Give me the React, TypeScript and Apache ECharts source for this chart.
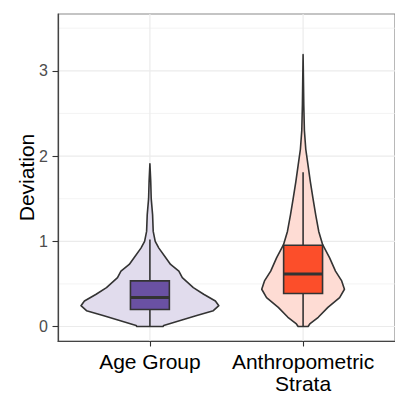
import React, { useEffect, useRef } from "react";
import * as echarts from "echarts";

const categories = ["Age Group", "Anthropometric\nStrata"];
const categoryPositions = [1, 2];
const yTickValues = [0, 1, 2, 3];
const yMinorValues = [0.5, 1.5, 2.5, 3.5];

// violin outlines: values and relative half-widths (1 = widest violin)
const ageViolinY = [0, 0.012, 0.07, 0.128, 0.186, 0.244, 0.3, 0.379, 0.457, 0.573, 0.65, 0.728, 0.806, 0.92, 1.0, 1.116, 1.31, 1.5, 1.7, 1.91];
const ageViolinW = [0.19, 0.2, 0.44, 0.68, 0.92, 1.0, 0.95, 0.78, 0.63, 0.47, 0.42, 0.3, 0.23, 0.13, 0.077, 0.048, 0.039, 0.019, 0.012, 0];
const anthroViolinY = [0, 0.03, 0.108, 0.224, 0.34, 0.437, 0.535, 0.65, 0.806, 0.96, 1.116, 1.31, 1.5, 1.7, 1.89, 2.08, 2.3, 2.6, 2.9, 3.19];
const anthroViolinW = [0.072, 0.097, 0.22, 0.36, 0.53, 0.6, 0.56, 0.47, 0.385, 0.284, 0.227, 0.183, 0.144, 0.105, 0.072, 0.039, 0.019, 0.01, 0.005, 0];

const boxLower = [0, 0];
const boxQ1 = [0.2, 0.387];
const boxMedian = [0.34, 0.616];
const boxQ3 = [0.535, 0.953];
const boxUpper = [1.02, 1.81];

const violinFills = ["#E1DCED", "#FEDCD4"];
const boxFills = ["#6A51A3", "#FC4E2A"];

const violinYs = [ageViolinY, anthroViolinY];
const violinWs = [ageViolinW, anthroViolinW];

const FONT = "'Liberation Sans', Arial, sans-serif";
const VIOLIN_HALF = 0.45;
const BOX_HALF = 0.127;
const OUTLINE = "#333333";
const LW = 1.6;

export default function App() {
  const ref = useRef<HTMLDivElement>(null);
  useEffect(() => {
    if (!ref.current) return;
    const chart = echarts.init(ref.current, null, { renderer: "svg" });

    const renderViolin = (params: any, api: any) => {
      const cx = api.value(0);
      const i = api.value(1);
      const ys = violinYs[i];
      const ws = violinWs[i];
      const pts: number[][] = [];
      for (let k = 0; k < ys.length; k++) pts.push(api.coord([cx + VIOLIN_HALF * ws[k], ys[k]]));
      for (let k = ys.length - 1; k >= 0; k--) pts.push(api.coord([cx - VIOLIN_HALF * ws[k], ys[k]]));
      const tl = api.coord([cx - BOX_HALF, boxQ3[i]]);
      const br = api.coord([cx + BOX_HALF, boxQ1[i]]);
      const mL = api.coord([cx - BOX_HALF, boxMedian[i]]);
      const mR = api.coord([cx + BOX_HALF, boxMedian[i]]);
      const wTop = api.coord([cx, boxUpper[i]]);
      const wQ3 = api.coord([cx, boxQ3[i]]);
      const wQ1 = api.coord([cx, boxQ1[i]]);
      const wBot = api.coord([cx, boxLower[i]]);
      return {
        type: "group",
        children: [
          {
            type: "polygon",
            shape: { points: pts },
            style: { fill: violinFills[i], stroke: OUTLINE, lineWidth: LW, lineJoin: "round" },
          },
          {
            type: "line",
            shape: { x1: wTop[0], y1: wTop[1], x2: wQ3[0], y2: wQ3[1] },
            style: { stroke: OUTLINE, lineWidth: LW },
          },
          {
            type: "line",
            shape: { x1: wQ1[0], y1: wQ1[1], x2: wBot[0], y2: wBot[1] },
            style: { stroke: OUTLINE, lineWidth: LW },
          },
          {
            type: "rect",
            shape: { x: tl[0], y: tl[1], width: br[0] - tl[0], height: br[1] - tl[1] },
            style: { fill: boxFills[i], stroke: OUTLINE, lineWidth: LW },
          },
          {
            type: "line",
            shape: { x1: mL[0], y1: mL[1], x2: mR[0], y2: mR[1] },
            style: { stroke: OUTLINE, lineWidth: 3 },
          },
        ],
      };
    };

    // gridlines drawn through the axes' scales
    const renderGrid = (params: any, api: any) => {
      const children: any[] = [];
      const x0 = 0.4;
      const x1 = 2.6;
      yMinorValues.forEach((v) => {
        const a = api.coord([x0, v]);
        const b = api.coord([x1, v]);
        children.push({
          type: "line",
          shape: { x1: a[0], y1: a[1], x2: b[0], y2: b[1] },
          style: { stroke: "#EFEFEF", lineWidth: 0.7 },
        });
      });
      yTickValues.forEach((v) => {
        const a = api.coord([x0, v]);
        const b = api.coord([x1, v]);
        children.push({
          type: "line",
          shape: { x1: a[0], y1: a[1], x2: b[0], y2: b[1] },
          style: { stroke: "#EBEBEB", lineWidth: 1.2 },
        });
      });
      categoryPositions.forEach((v) => {
        const a = api.coord([v, -0.17]);
        const b = api.coord([v, 3.667]);
        children.push({
          type: "line",
          shape: { x1: a[0], y1: a[1], x2: b[0], y2: b[1] },
          style: { stroke: "#EBEBEB", lineWidth: 1.2 },
        });
      });
      return { type: "group", children };
    };

    chart.setOption({
      animation: false,
      backgroundColor: "#ffffff",
      grid: {
        left: 58,
        top: 14,
        width: 339,
        height: 330,
        show: true,
        borderColor: "#8a8a8a",
        borderWidth: 1.2,
        backgroundColor: "transparent",
      },
      xAxis: {
        type: "value",
        min: 0.4,
        max: 2.6,
        splitLine: { show: false },
        axisLine: { show: true, onZero: false, lineStyle: { color: "#444", width: 1.2 } },
        axisTick: {
          show: true,
          customValues: categoryPositions,
          length: 5.5,
          lineStyle: { color: "#333", width: 1.1 },
        },
        axisLabel: {
          show: true,
          customValues: categoryPositions,
          formatter: (v: number) => categories[Math.round(v) - 1] ?? "",
          fontSize: 21,
          lineHeight: 22,
          color: "#000",
          fontFamily: FONT,
          margin: 9,
        },
      },
      yAxis: {
        type: "value",
        min: -0.17,
        max: 3.667,
        splitLine: { show: false },
        axisLine: { show: true, onZero: false, lineStyle: { color: "#444", width: 1.2 } },
        axisTick: {
          show: true,
          customValues: yTickValues,
          length: 5.5,
          lineStyle: { color: "#333", width: 1.1 },
        },
        axisLabel: {
          show: true,
          customValues: yTickValues,
          fontSize: 16,
          color: "#4D4D4D",
          fontFamily: FONT,
          margin: 10,
        },
        name: "Deviation",
        nameLocation: "middle",
        nameGap: 21,
        nameMoveOverlap: false,
        nameTextStyle: { fontSize: 21, color: "#000", fontFamily: FONT },
      },
      series: [
        {
          type: "custom",
          z: 0,
          silent: true,
          clip: true,
          renderItem: renderGrid,
          data: [[0]],
        },
        {
          type: "custom",
          z: 3,
          clip: false,
          renderItem: renderViolin,
          data: categoryPositions.map((p, i) => [p, i]),
        },
      ],
    });
    return () => chart.dispose();
  }, []);
  return (
    <div
      ref={ref}
      style={{ position: "absolute", left: 0, top: 0, width: 395, height: 394 }}
    />
  );
}
